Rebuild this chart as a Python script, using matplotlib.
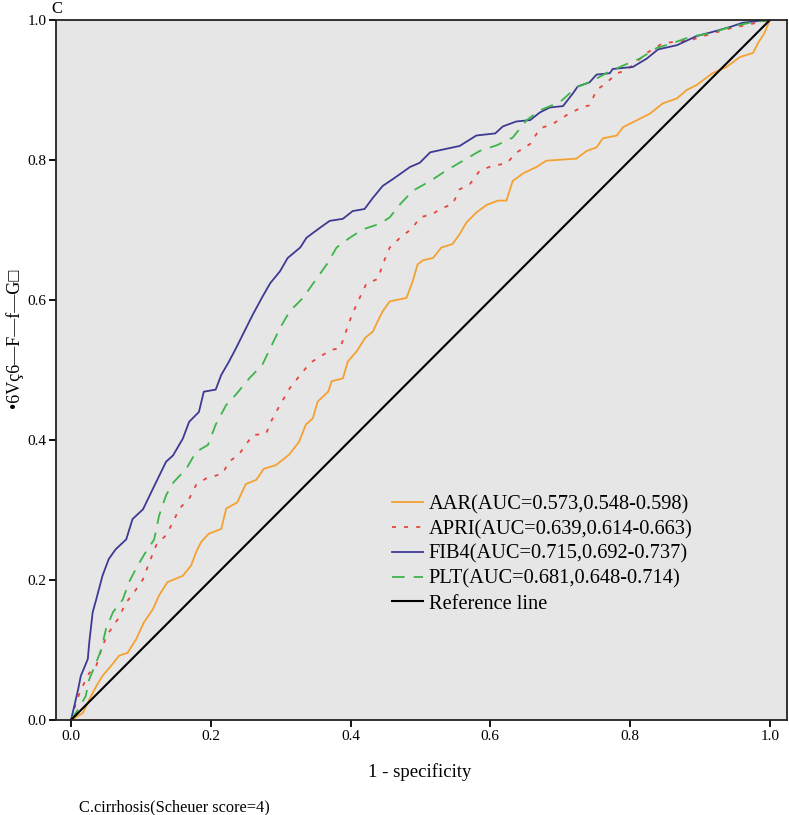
import matplotlib
matplotlib.use("Agg")
import matplotlib.pyplot as plt

# ROC points (x = 1 - specificity, y = sensitivity)
aar_x = [0, 0.017, 0.026, 0.036, 0.045, 0.057, 0.069, 0.081, 0.093, 0.104,
         0.117, 0.126, 0.138, 0.16, 0.172, 0.179, 0.186, 0.197, 0.215, 0.222,
         0.238, 0.25, 0.265, 0.276, 0.293, 0.312, 0.326, 0.336, 0.346, 0.353,
         0.368, 0.373, 0.389, 0.396, 0.409, 0.421, 0.432, 0.439, 0.446, 0.456,
         0.48, 0.489, 0.496, 0.504, 0.518, 0.53, 0.546, 0.556, 0.566, 0.58,
         0.595, 0.611, 0.623, 0.632, 0.647, 0.666, 0.68, 0.723, 0.738, 0.752,
         0.761, 0.781, 0.79, 0.804, 0.828, 0.847, 0.867, 0.881, 0.895, 0.918,
         0.938, 0.957, 0.976, 0.983, 0.992, 1.0]
aar_y = [0, 0.01, 0.029, 0.048, 0.063, 0.077, 0.092, 0.096, 0.115, 0.139,
         0.158, 0.178, 0.197, 0.206, 0.221, 0.24, 0.254, 0.266, 0.273, 0.302,
         0.311, 0.337, 0.343, 0.359, 0.364, 0.379, 0.397, 0.422, 0.431, 0.455,
         0.469, 0.484, 0.488, 0.512, 0.527, 0.546, 0.555, 0.57, 0.584, 0.598,
         0.603, 0.627, 0.651, 0.657, 0.66, 0.675, 0.68, 0.694, 0.711, 0.725,
         0.736, 0.742, 0.742, 0.77, 0.781, 0.79, 0.799, 0.802, 0.813, 0.818,
         0.831, 0.835, 0.847, 0.854, 0.866, 0.881, 0.888, 0.9, 0.907, 0.924,
         0.933, 0.947, 0.953, 0.967, 0.981, 1.0]

apri_x = [0, 0.007, 0.014, 0.026, 0.036, 0.045, 0.054, 0.067, 0.079, 0.09,
          0.103, 0.112, 0.122, 0.136, 0.146, 0.155, 0.169, 0.179, 0.193, 0.217,
          0.226, 0.24, 0.25, 0.26, 0.279, 0.287, 0.299, 0.313, 0.328, 0.342,
          0.356, 0.373, 0.385, 0.392, 0.402, 0.413, 0.423, 0.439, 0.446, 0.456,
          0.471, 0.489, 0.499, 0.518, 0.528, 0.546, 0.556, 0.571, 0.585, 0.604,
          0.623, 0.638, 0.657, 0.671, 0.69, 0.709, 0.732, 0.742, 0.752, 0.766,
          0.781, 0.795, 0.824, 0.847, 0.886, 0.918, 0.943, 0.967, 1.0]
apri_y = [0, 0.024, 0.043, 0.067, 0.077, 0.106, 0.125, 0.144, 0.168, 0.182,
          0.201, 0.225, 0.25, 0.264, 0.283, 0.302, 0.316, 0.336, 0.345, 0.352,
          0.369, 0.379, 0.393, 0.407, 0.409, 0.428, 0.45, 0.474, 0.493, 0.51,
          0.519, 0.529, 0.531, 0.551, 0.579, 0.603, 0.624, 0.63, 0.651, 0.675,
          0.689, 0.703, 0.718, 0.723, 0.73, 0.737, 0.758, 0.766, 0.785, 0.792,
          0.795, 0.811, 0.823, 0.845, 0.852, 0.864, 0.876, 0.878, 0.9, 0.91,
          0.924, 0.928, 0.953, 0.967, 0.971, 0.981, 0.988, 0.993, 1.0]

fib4_x = [0, 0.01, 0.014, 0.024, 0.026, 0.031, 0.036, 0.045, 0.054, 0.064,
          0.079, 0.088, 0.103, 0.117, 0.136, 0.146, 0.16, 0.169, 0.183, 0.19,
          0.207, 0.215, 0.226, 0.236, 0.246, 0.26, 0.273, 0.285, 0.299, 0.31,
          0.328, 0.337, 0.356, 0.37, 0.389, 0.403, 0.42, 0.432, 0.446, 0.461,
          0.485, 0.499, 0.514, 0.537, 0.556, 0.58, 0.607, 0.618, 0.637, 0.657,
          0.671, 0.685, 0.704, 0.718, 0.725, 0.742, 0.752, 0.771, 0.775, 0.804,
          0.824, 0.84, 0.867, 0.895, 0.918, 0.943, 0.961, 0.986, 1.0]
fib4_y = [0, 0.043, 0.063, 0.087, 0.11, 0.154, 0.172, 0.206, 0.23, 0.244,
          0.258, 0.287, 0.301, 0.33, 0.369, 0.378, 0.402, 0.426, 0.44, 0.469,
          0.472, 0.493, 0.512, 0.531, 0.551, 0.579, 0.603, 0.624, 0.641, 0.66,
          0.675, 0.689, 0.703, 0.713, 0.716, 0.727, 0.73, 0.746, 0.763, 0.773,
          0.79, 0.796, 0.811, 0.816, 0.82, 0.835, 0.838, 0.848, 0.855, 0.857,
          0.868, 0.875, 0.877, 0.895, 0.905, 0.911, 0.922, 0.924, 0.93, 0.933,
          0.945, 0.958, 0.964, 0.977, 0.983, 0.99, 0.996, 0.999, 1.0]

plt_x = [0, 0.01, 0.021, 0.026, 0.036, 0.043, 0.05, 0.06, 0.074, 0.083,
         0.095, 0.107, 0.119, 0.126, 0.136, 0.147, 0.165, 0.179, 0.196, 0.207,
         0.222, 0.236, 0.255, 0.274, 0.285, 0.299, 0.313, 0.332, 0.346, 0.366,
         0.38, 0.399, 0.418, 0.442, 0.456, 0.471, 0.489, 0.514, 0.537, 0.561,
         0.585, 0.609, 0.632, 0.652, 0.671, 0.7, 0.723, 0.742, 0.766, 0.79,
         0.814, 0.838, 0.861, 0.886, 0.914, 0.943, 0.971, 1.0]
plt_y = [0, 0.015, 0.034, 0.058, 0.082, 0.1, 0.13, 0.154, 0.172, 0.197,
         0.22, 0.24, 0.258, 0.292, 0.321, 0.34, 0.359, 0.383, 0.393, 0.422,
         0.45, 0.465, 0.488, 0.508, 0.531, 0.56, 0.584, 0.603, 0.623, 0.651,
         0.675, 0.689, 0.701, 0.709, 0.718, 0.737, 0.756, 0.77, 0.785, 0.799,
         0.813, 0.821, 0.832, 0.857, 0.871, 0.883, 0.904, 0.911, 0.924, 0.935,
         0.945, 0.96, 0.967, 0.976, 0.981, 0.99, 0.996, 1.0]

labels = ["AAR(AUC=0.573,0.548-0.598)",
          "APRI(AUC=0.639,0.614-0.663)",
          "FIB4(AUC=0.715,0.692-0.737)",
          "PLT(AUC=0.681,0.648-0.714)",
          "Reference line"]
ticks = [0.0, 0.2, 0.4, 0.6, 0.8, 1.0]

plt.rcParams["font.family"] = ["Liberation Serif", "DejaVu Serif"]

fig = plt.figure(figsize=(7.89, 8.15), dpi=100)
ax = fig.add_axes([56 / 789, 1 - 720 / 815, 731 / 789, 700 / 815])
ax.set_facecolor("#e6e6e6")

ax.plot(aar_x, aar_y, color="#f5a131", lw=1.3, label=labels[0])
ax.plot(apri_x, apri_y, color="#e8453a", lw=1.3, dashes=(2.2, 4.5), label=labels[1])
ax.plot(fib4_x, fib4_y, color="#3c3a93", lw=1.3, label=labels[2])
ax.plot(plt_x, plt_y, color="#3db54a", lw=1.3, dashes=(7, 5), label=labels[3])
ax.plot([0, 1], [0, 1], color="black", lw=1.5, label=labels[4])

ax.set_xlim(-0.0215, 1.0245)
ax.set_ylim(0, 1)
ax.set_xticks(ticks)
ax.set_yticks(ticks)
ax.set_xticklabels([f"{t:.1f}" for t in ticks])
ax.set_yticklabels([f"{t:.1f}" for t in ticks])
ax.tick_params(direction="out", length=5, width=1.3, labelsize=11, pad=2, colors="black")
for s in ax.spines.values():
    s.set_linewidth(1.3)
    s.set_color("#222222")

ax.legend(loc="upper left", bbox_to_anchor=(392 / 789, 1 - 495 / 815),
          bbox_transform=fig.transFigure, frameon=False, fontsize=14.7,
          handlelength=1.5, handletextpad=0.3, labelspacing=0.27,
          borderpad=0, borderaxespad=0)

fig.text(420 / 789, 1 - 772 / 815, "1 - specificity", ha="center", va="center", fontsize=13.5)
fig.text(14 / 789, 1 - 338 / 815, "•6Vç6—F—f—G□", rotation=90, ha="center",
         va="center", fontsize=13)
fig.text(57 / 789, 1 - 9 / 815, "C", ha="center", va="center", fontsize=12)
fig.text(79 / 789, 1 - 807 / 815, "C.cirrhosis(Scheuer score=4)", ha="left",
         va="center", fontsize=11.8)

fig.savefig("out.png", dpi=100, facecolor="white")
